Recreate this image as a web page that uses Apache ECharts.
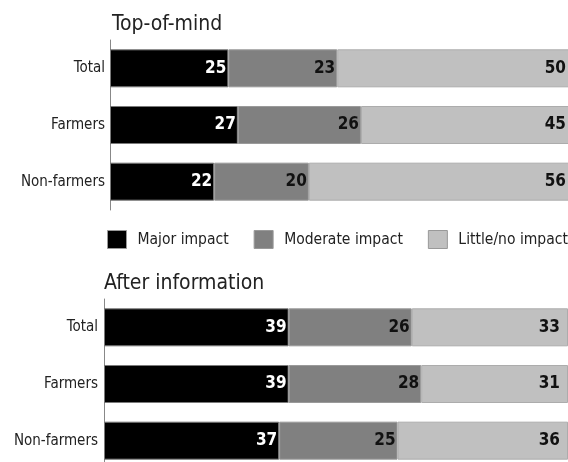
<!DOCTYPE html>
<html>
<head>
<meta charset="utf-8">
<script src="https://cdn.jsdelivr.net/npm/echarts@6/dist/echarts.min.js"></script>
<style>
html,body{margin:0;padding:0;background:#fff;}
#chart{width:568px;height:462px;}
</style>
</head>
<body>
<div id="chart"></div>
<script>
var categories = ['Total', 'Farmers', 'Non-farmers'];
var seriesNames = ['Major impact', 'Moderate impact', 'Little/no impact'];
var panelTitles = ['Top-of-mind', 'After information'];
var topMajor = [25, 27, 22];
var topModerate = [23, 26, 20];
var topLittle = [50, 45, 56];
var afterMajor = [39, 39, 37];
var afterModerate = [26, 28, 25];
var afterLittle = [33, 31, 36];

var FONT = "'Liberation Sans Narrow', 'DejaVu Sans Condensed', 'Arial Narrow', sans-serif";
var colors = ['#000000', '#808080', '#c0c0c0'];
var borders = ['#7a7a7a', '#9a9a9a', '#acacac'];
var labelColors = ['#ffffff', '#111111', '#111111'];
var labelDist = [2, 2, 8];

var chart = echarts.init(document.getElementById('chart'));

function mk(name, data, idx, gridIdx) {
  return {
    name: name,
    type: 'bar',
    stack: 'p' + gridIdx,
    xAxisIndex: gridIdx,
    yAxisIndex: gridIdx,
    barWidth: 38,
    data: data,
    clip: false,
    itemStyle: { color: colors[idx], borderColor: borders[idx], borderWidth: 1 },
    label: {
      show: true,
      position: 'insideRight',
      distance: labelDist[idx],
      color: labelColors[idx],
      fontFamily: FONT,
      fontWeight: 'bold',
      fontSize: 17
    },
    emphasis: { disabled: true },
    animation: false
  };
}

var topSets = [topMajor, topModerate, topLittle];
var afterSets = [afterMajor, afterModerate, afterLittle];
var series = [];
for (var i = 0; i < 3; i++) series.push(mk(seriesNames[i], topSets[i], i, 0));
for (var j = 0; j < 3; j++) series.push(mk(seriesNames[j], afterSets[j], j, 1));

function yAx(gridIdx, margin) {
  return {
    type: 'category',
    gridIndex: gridIdx,
    data: categories,
    inverse: true,
    axisLine: { show: true, lineStyle: { color: '#888', width: 1 } },
    axisTick: { show: false },
    axisLabel: { color: '#222', fontFamily: FONT, fontSize: 15, margin: margin }
  };
}
function xAx(gridIdx) {
  return {
    type: 'value',
    gridIndex: gridIdx,
    min: 0,
    max: 98,
    show: false
  };
}

chart.setOption({
  animation: false,
  title: [
    { text: panelTitles[0], left: 107, top: 9, padding: 5, textStyle: { fontFamily: FONT, fontSize: 21, fontWeight: 'normal', color: '#222' } },
    { text: panelTitles[1], left: 99, top: 268, padding: 5, textStyle: { fontFamily: FONT, fontSize: 21, fontWeight: 'normal', color: '#222' } }
  ],
  legend: {
    data: seriesNames,
    left: 107,
    top: 230,
    width: 470,
    padding: 0,
    itemWidth: 19,
    itemHeight: 18,
    itemGap: 25,
    icon: 'rect',
    selectedMode: false,
    textStyle: { fontFamily: FONT, fontSize: 15.5, color: '#222', padding: [0, 0, 0, 6] },
    itemStyle: { borderColor: '#999', borderWidth: 1 }
  },
  grid: [
    { left: 110, right: -6, top: 40, height: 170, outerBoundsMode: 'none' },
    { left: 104, right: 0, top: 299, height: 170, outerBoundsMode: 'none' }
  ],
  xAxis: [xAx(0), xAx(1)],
  yAxis: [yAx(0, 5), yAx(1, 6)],
  series: series
});
</script>
</body>
</html>
